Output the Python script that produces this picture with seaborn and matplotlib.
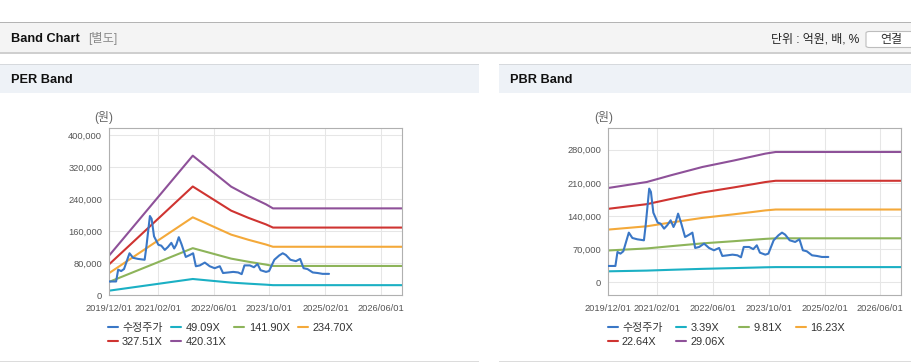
import pandas as pd
import numpy as np
import matplotlib
matplotlib.use("Agg")
import matplotlib.pyplot as plt
import matplotlib.dates as mdates
from matplotlib.patches import Rectangle, FancyBboxPatch
from matplotlib.ticker import FuncFormatter
import seaborn as sns

# 수정주가 (두 차트 공통)
price_dates = [
    "2019-12-01", "2020-02-01", "2020-02-19", "2020-03-16", "2020-04-10", "2020-05-28",
    "2020-06-28", "2020-08-10", "2020-10-07", "2020-10-22", "2020-11-22", "2020-12-07",
    "2020-12-28", "2021-02-04", "2021-03-01", "2021-04-01", "2021-04-28", "2021-05-28",
    "2021-06-22", "2021-07-10", "2021-08-01", "2021-08-25", "2021-10-01", "2021-11-07",
    "2021-12-04", "2021-12-28", "2022-02-01", "2022-03-16", "2022-04-28", "2022-06-10",
    "2022-07-25", "2022-08-22", "2022-10-07", "2022-11-19", "2023-01-01", "2023-02-01",
    "2023-02-25", "2023-04-13", "2023-05-19", "2023-06-19", "2023-07-16", "2023-09-01",
    "2023-09-28", "2023-11-13", "2023-12-25", "2024-01-25", "2024-02-21", "2024-04-01",
    "2024-05-19", "2024-06-25", "2024-07-25", "2024-08-28", "2024-10-13", "2024-11-25",
    "2025-01-07", "2025-03-04",
]
price_values = [
    34500, 34500, 64000, 60500, 65500, 104900,
    93600, 90800, 88700, 120400, 197800, 190800,
    147100, 126000, 123900, 113300, 120400, 130900,
    116800, 126000, 145000, 127400, 95700, 100700,
    104900, 72500, 74600, 81700, 72500, 67600,
    72500, 55600, 57000, 58400, 57000, 52800,
    74600, 74600, 70000, 78100, 62600, 58400,
    60500, 88700, 99300, 104900, 100700, 88700,
    85200, 90800, 67600, 65500, 57000, 55600,
    53500, 53500,
]

# PER 밴드
per_dates = ["2019-12-01", "2021-12-01", "2022-11-01", "2023-04-01", "2023-09-01", "2023-11-01", "2026-12-01"]
per_labels = ["49.09X", "141.90X", "234.70X", "327.51X", "420.31X"]
per_4909 = [11500, 40700, 31700, 29000, 26500, 25300, 25300]
per_14190 = [33300, 117600, 91500, 83700, 76600, 73200, 73200]
per_23470 = [55200, 194600, 151400, 138500, 126700, 121100, 121100]
per_32751 = [77000, 271500, 211200, 193200, 176900, 169000, 169000]
per_42031 = [98800, 348400, 271100, 248000, 227000, 216900, 216900]

# PBR 밴드
pbr_dates = ["2019-12-01", "2020-11-01", "2021-06-01", "2022-03-01", "2022-12-01",
             "2023-06-01", "2023-09-01", "2023-12-01", "2026-12-01"]
pbr_labels = ["3.39X", "9.81X", "16.23X", "22.64X", "29.06X"]
pbr_339 = [23200, 24700, 26400, 28400, 30000, 31100, 31700, 32100, 32100]
pbr_981 = [67200, 71500, 76300, 82200, 86800, 90100, 91700, 92900, 92900]
pbr_1623 = [111300, 118300, 126300, 136000, 143600, 149000, 151800, 153700, 153700]
pbr_2264 = [155200, 165000, 176100, 189700, 200400, 207800, 211700, 214400, 214400]
pbr_2906 = [199200, 211800, 226100, 243500, 257200, 266800, 271700, 275200, 275200]

x_ticks = ["2019-12-01", "2021-02-01", "2022-06-01", "2023-10-01", "2025-02-01", "2026-06-01"]
per_yticks = [0, 80000, 160000, 240000, 320000, 400000]
pbr_yticks = [0, 70000, 140000, 210000, 280000]

price_color = "#3a77c6"
band_colors = ["#1bb0c4", "#8db45a", "#f4a93a", "#cf3431", "#8e5199"]

sns.set_theme(style="whitegrid")
plt.rcParams["font.family"] = ["Liberation Sans", "Noto Sans CJK KR", "DejaVu Sans"]
plt.rcParams["axes.unicode_minus"] = False

W, H = 912, 364
fig = plt.figure(figsize=(W / 100, H / 100), dpi=100)
fig.patch.set_facecolor("white")


def px_rect(x, y, w, h, **kw):
    # 픽셀 좌표(위에서부터)로 사각형 추가
    r = Rectangle((x / W, 1 - (y + h) / H), w / W, h / H, transform=fig.transFigure, **kw)
    fig.patches.append(r)
    return r


def px_text(x, y, s, **kw):
    fig.text(x / W, 1 - y / H, s, **kw)


# 상단 바
px_rect(0, 22, W, 31, facecolor="#f4f4f4", edgecolor="none")
px_rect(0, 22, W, 1.2, facecolor="#b4b4b4", edgecolor="none")
px_rect(0, 52.5, W, 1.2, facecolor="#cfcfcf", edgecolor="none")
px_text(11.5, 38.5, "Band Chart", fontsize=9.2, fontweight="bold", color="#111111", va="center")
px_text(88, 38.5, "[별도]", fontsize=8.8, color="#8a8a8a", va="center")
px_text(859, 39, "단위 : 억원, 배, %", fontsize=8.6, color="#222222", va="center", ha="right")
btn = FancyBboxPatch((866 / W, 1 - 47.5 / H), 60 / W, 16 / H, boxstyle="round,pad=0,rounding_size=0.004",
                     transform=fig.transFigure, facecolor="white", edgecolor="#bdbdbd", linewidth=0.8)
fig.patches.append(btn)
px_text(891.5, 39.5, "연결", fontsize=8.6, color="#333333", va="center", ha="center")

# 패널 헤더
for x0, w, title in [(0, 479, "PER Band"), (499, 413, "PBR Band")]:
    px_rect(x0, 64, w, 28.5, facecolor="#eef2f7", edgecolor="none")
    px_rect(x0, 64, w, 1, facecolor="#d6d9dd", edgecolor="none")
    px_rect(x0, 361, w, 1.2, facecolor="#dcdcdc", edgecolor="none")
    px_text(x0 + 11.5, 80, title, fontsize=9.2, fontweight="bold", color="#111111", va="center")


def draw_band(left_px, band_dates, bands, labels, yticks, ylim, legend_x, colspace):
    ax = fig.add_axes([left_px / W, 1 - 295.3 / H, 293 / W, 167 / H])
    ax.set_facecolor("white")
    bd = pd.to_datetime(band_dates)
    for vals, lab, col in zip(bands, labels, band_colors):
        sns.lineplot(x=bd, y=vals, color=col, linewidth=1.5, ax=ax, label=lab)
    sns.lineplot(x=pd.to_datetime(price_dates), y=price_values, color=price_color,
                 linewidth=1.5, ax=ax, label="수정주가", zorder=5)
    ax.set_xlim(pd.Timestamp("2019-12-01"), pd.Timestamp("2026-12-01"))
    ax.set_ylim(*ylim)
    ax.set_xticks(pd.to_datetime(x_ticks))
    ax.xaxis.set_major_formatter(mdates.DateFormatter("%Y/%m/%d"))
    ax.set_yticks(yticks)
    ax.yaxis.set_major_formatter(FuncFormatter(lambda v, p: f"{v:,.0f}"))
    ax.tick_params(axis="both", labelsize=6.7, colors="#b0b0b0", labelcolor="#555555",
                   length=3, width=0.7, pad=2)
    ax.tick_params(axis="x", pad=3)
    ax.grid(True, color="#e6e6e6", linewidth=0.75)
    for s in ax.spines.values():
        s.set_color("#b0b0b0")
        s.set_linewidth(0.8)
    ax.set_xlabel("")
    ax.set_ylabel("")
    # 범례 (행 우선 순서로 재배치)
    h, l = ax.get_legend_handles_labels()
    lk = dict(zip(l, h))
    order = ["수정주가", labels[3], labels[0], labels[4], labels[1], labels[2]]
    ax.legend([lk[k] for k in order], order, ncol=4, loc="upper left",
              bbox_to_anchor=(legend_x / W, 1 - 323 / H), bbox_transform=fig.transFigure,
              frameon=False, fontsize=7.9, handlelength=0.9, handletextpad=0.4,
              columnspacing=colspace, labelspacing=0.35, borderpad=0, borderaxespad=0,
              labelcolor="#333333")
    fig.text((left_px - 5) / W, 1 - 118 / H, "(원)", fontsize=8.6, color="#666666",
             ha="center", va="center")
    return ax


draw_band(109, per_dates, [per_4909, per_14190, per_23470, per_32751, per_42031],
          per_labels, per_yticks, (0, 416700), 107.7, 0.75)
draw_band(608.3, pbr_dates, [pbr_339, pbr_981, pbr_1623, pbr_2264, pbr_2906],
          pbr_labels, pbr_yticks, (-27450, 325200), 607.7, 1.25)

fig.savefig("out.png", dpi=100, facecolor="white")
